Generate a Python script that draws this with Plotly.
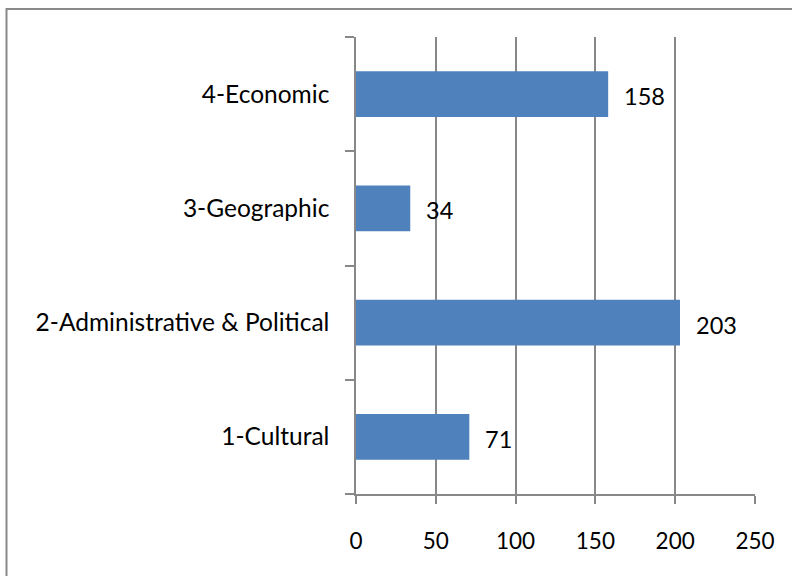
import plotly.graph_objects as go

categories = ["1-Cultural", "2-Administrative & Political", "3-Geographic", "4-Economic"]
values = [71, 203, 34, 158]
x_ticks = [0, 50, 100, 150, 200, 250]

FONT = "Lato, Open Sans, sans-serif"
GRAY = "#888888"

fig = go.Figure()
fig.add_trace(go.Bar(
    x=values, y=categories, orientation="h",
    marker=dict(color="#4F81BD", line=dict(width=0)),
    hoverinfo="skip",
))

for c, v in zip(categories, values):
    fig.add_annotation(x=v, y=c, text=str(v), showarrow=False,
                       xanchor="left", yanchor="middle", xshift=14, yshift=-2,
                       font=dict(family=FONT, size=23.5, color="black"))

fig.add_shape(type="rect", xref="paper", yref="paper",
              x0=(6.5 - 356) / 399, x1=1.3, y0=-0.4, y1=(494 - 9) / 457,
              line=dict(color="#898989", width=2), layer="above")

fig.update_layout(
    width=792, height=576,
    margin=dict(l=356, r=37, t=37, b=82),
    paper_bgcolor="white", plot_bgcolor="white",
    bargap=0.6, showlegend=False,
    font=dict(family=FONT, size=22, color="black"),
    xaxis=dict(range=[0, 250], tickvals=x_ticks, showgrid=True, gridcolor=GRAY,
               gridwidth=1.5, zeroline=False, showline=True, linecolor=GRAY,
               linewidth=1.5, ticks="outside", ticklen=8, tickcolor=GRAY,
               tickwidth=1.5, ticklabelstandoff=18, fixedrange=True,
               tickfont=dict(size=22.5)),
    yaxis=dict(categoryorder="array", categoryarray=categories, showgrid=False,
               zeroline=False, showline=True, linecolor=GRAY, linewidth=1.5,
               ticks="outside", tickson="boundaries", ticklen=9, tickcolor=GRAY,
               tickwidth=1.5, ticklabelstandoff=20, fixedrange=True,
               tickfont=dict(size=24.5)),
)

fig.write_html("out.html", config={"displayModeBar": False},
               post_script="document.body.style.margin='0';")
